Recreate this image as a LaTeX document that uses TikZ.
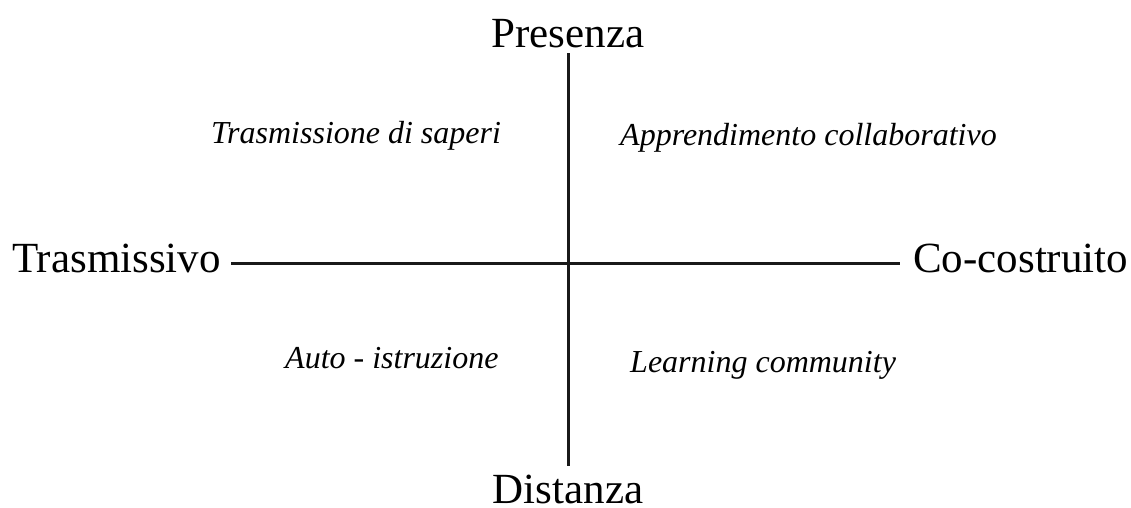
\documentclass[tikz,border=0pt]{standalone}
\usepackage{fontspec}
\setmainfont{Liberation Serif}
\usetikzlibrary{positioning}

\begin{document}
\begin{tikzpicture}[
                   x = 1pt,
                   y = -1pt,
     axislabel/.style = {font=\fontsize{43}{50}\selectfont, inner sep=0pt, anchor=base},
  quadlabel/.style = {font=\fontsize{32}{38}\selectfont\itshape, inner sep=0pt, anchor=base west},
      axisline/.style = {draw, line width=3pt, color=black!90},
                     ]
\useasboundingbox (0,0) rectangle (1131,507);
% axes
\coordinate (top)    at (568,53);
\coordinate (bottom) at (568,466);
\coordinate (left)   at (231,263);
\coordinate (right)  at (900,263);
\draw[axisline] (top) -- (bottom);
\draw[axisline] (left) -- (right);
% axis ends
\node[axislabel] (pres) at (568,47)  {Presenza};
\node[axislabel] (dist) at (568,503) {Distanza};
\node[axislabel, anchor=base east] (trasm) at (221,272) {Trasmissivo};
\node[axislabel, anchor=base west] (cocos) at (913,272) {Co-costruito};
% quadrants
\node[quadlabel] (q1) at (211,143) {Trasmissione di saperi};
\node[quadlabel] (q2) at (620,145) {Apprendimento collaborativo};
\node[quadlabel] (q3) at (285,368) {Auto - istruzione};
\node[quadlabel] (q4) at (630,372) {Learning community};
\end{tikzpicture}
\end{document}
